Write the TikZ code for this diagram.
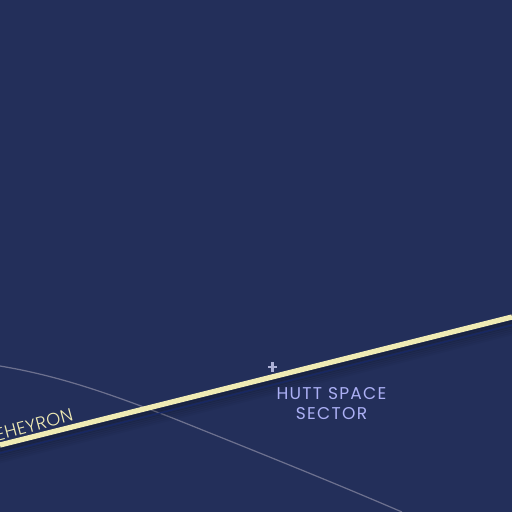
\documentclass[tikz,border=0pt]{standalone}
\usepackage{fontspec}
\setmainfont{Poppins}
\newfontfamily\routefont[LetterSpace=2]{Poppins Light}
\newfontfamily\sectorfont[LetterSpace=7.5]{Poppins}
\definecolor{spacebg}{RGB}{35,47,90}
\definecolor{routeyellow}{RGB}{240,235,180}
\definecolor{routeblue}{RGB}{24,40,100}
\definecolor{sectorlilac}{RGB}{172,176,245}
\definecolor{planetgrey}{RGB}{172,176,214}
\definecolor{borderline}{RGB}{108,112,142}
\tikzset{
	sectorlabel/.style={text=sectorlilac, font=\sectorfont\fontsize{9.7pt}{11.5pt}\selectfont, align=center, inner sep=0pt},
	routelabel/.style={text=routeyellow, font=\routefont\fontsize{10.2pt}{12pt}\selectfont, inner sep=0pt, rotate=15, anchor=south east}
}
\begin{document}
\begin{tikzpicture}[x=0.02cm, y=-0.02cm]
	\useasboundingbox (0,0) rectangle (512,512);
	\clip (0,0) rectangle (512,512);
	\fill[spacebg] (0,0) rectangle (512,512);

	\draw[borderline, line width=0.7pt] (0,366) .. controls (60,376) and (110,394) .. (170,417) .. controls (250,449) and (330,481) .. (402,512);

	\foreach \off/\op in {3/0.18, 5/0.18, 7/0.15, 9/0.12, 11/0.10, 13/0.07, 15/0.05, 17/0.03}
	\draw[black, line width=1.4pt, opacity=\op] (0,445+\off) -- (512,317+\off);
	\draw[routeblue, line width=0.8pt] (0,453) -- (512,325);
	\draw[routeyellow, line width=3pt] (0,445) -- (512,317);

	\node[routelabel] (routename) at (74.5,421) {EHEYRON};
	\node[sectorlabel] (huttspace) at (331.5,403.5) {HUTT SPACE\\SECTOR};
	\draw[planetgrey, line width=1.4pt] (268,367) -- (277.5,367) (272.7,362.3) -- (272.7,372);
\end{tikzpicture}
\end{document}
